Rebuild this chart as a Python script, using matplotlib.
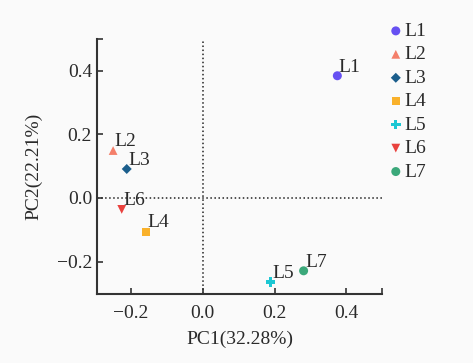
import matplotlib
matplotlib.use('Agg')
import matplotlib.pyplot as plt

# PCA scores
names = ['L1', 'L2', 'L3', 'L4', 'L5', 'L6', 'L7']
pc1 = [0.375, -0.250, -0.212, -0.159, 0.189, -0.226, 0.281]
pc2 = [0.384, 0.149, 0.091, -0.106, -0.264, -0.036, -0.229]
markers = ['o', '^', 'D', 's', 'P', 'v', 'o']
sizes = [42, 40, 26, 32, 48, 40, 42]
colors = ['#6650f2', '#f47f6a', '#1b5e8c', '#f9b12b', '#1cc7d3', '#e9423e', '#3ba87a']

xticks = [-0.2, 0.0, 0.2, 0.4]
yticks = [-0.2, 0.0, 0.2, 0.4]

plt.rcParams['font.family'] = 'serif'
plt.rcParams['font.serif'] = ['Liberation Serif', 'DejaVu Serif']
plt.rcParams['font.size'] = 14


def fmt(t):
    # minus sign as in the original
    return '\u2212%.1f' % -t if t < 0 else '%.1f' % t


fig = plt.figure(figsize=(4.73, 3.63), dpi=100, facecolor='#fafafa')
ax = fig.add_axes([0.205, 0.19, 0.603, 0.703])
ax.set_facecolor('none')

for n, x, y, m, s, c in zip(names, pc1, pc2, markers, sizes, colors):
    ax.scatter(x, y, marker=m, s=s, color=c, edgecolors='none', label=n, zorder=3)
    ax.annotate(n, (x, y), xytext=(1, 3), textcoords='offset points',
                ha='left', va='baseline', fontsize=14, color='#2a2a2a')

ax.axhline(0, color='#222222', ls=':', lw=1.1, zorder=1)
ax.axvline(0, color='#222222', ls=':', lw=1.1, zorder=1)

ax.set_xlim(-0.295, 0.5)
ax.set_ylim(-0.302, 0.5)
ax.set_xticks(xticks + [0.5])
ax.set_xticklabels([fmt(t) for t in xticks] + [''])
ax.set_yticks(yticks + [0.5])
ax.set_yticklabels([fmt(t) for t in yticks] + [''])
ax.tick_params(direction='in', length=4, width=1.2, color='#333333', labelcolor='#2a2a2a')
ax.tick_params(axis='x', pad=8)

for side in ['top', 'right']:
    ax.spines[side].set_visible(False)
for side in ['left', 'bottom']:
    ax.spines[side].set_linewidth(1.5)
    ax.spines[side].set_color('#333333')

ax.set_xlabel('PC1(32.28%)', color='#2a2a2a', labelpad=6)
ax.set_ylabel('PC2(22.21%)', color='#2a2a2a', labelpad=10)

leg = ax.legend(loc='upper left', bbox_to_anchor=(1.0, 1.095), frameon=False,
                handlelength=0.6, handletextpad=0.15, labelspacing=0.3,
                borderaxespad=0, fontsize=14)
for t in leg.get_texts():
    t.set_color('#2a2a2a')

fig.savefig('out.png', dpi=100, facecolor=fig.get_facecolor())
